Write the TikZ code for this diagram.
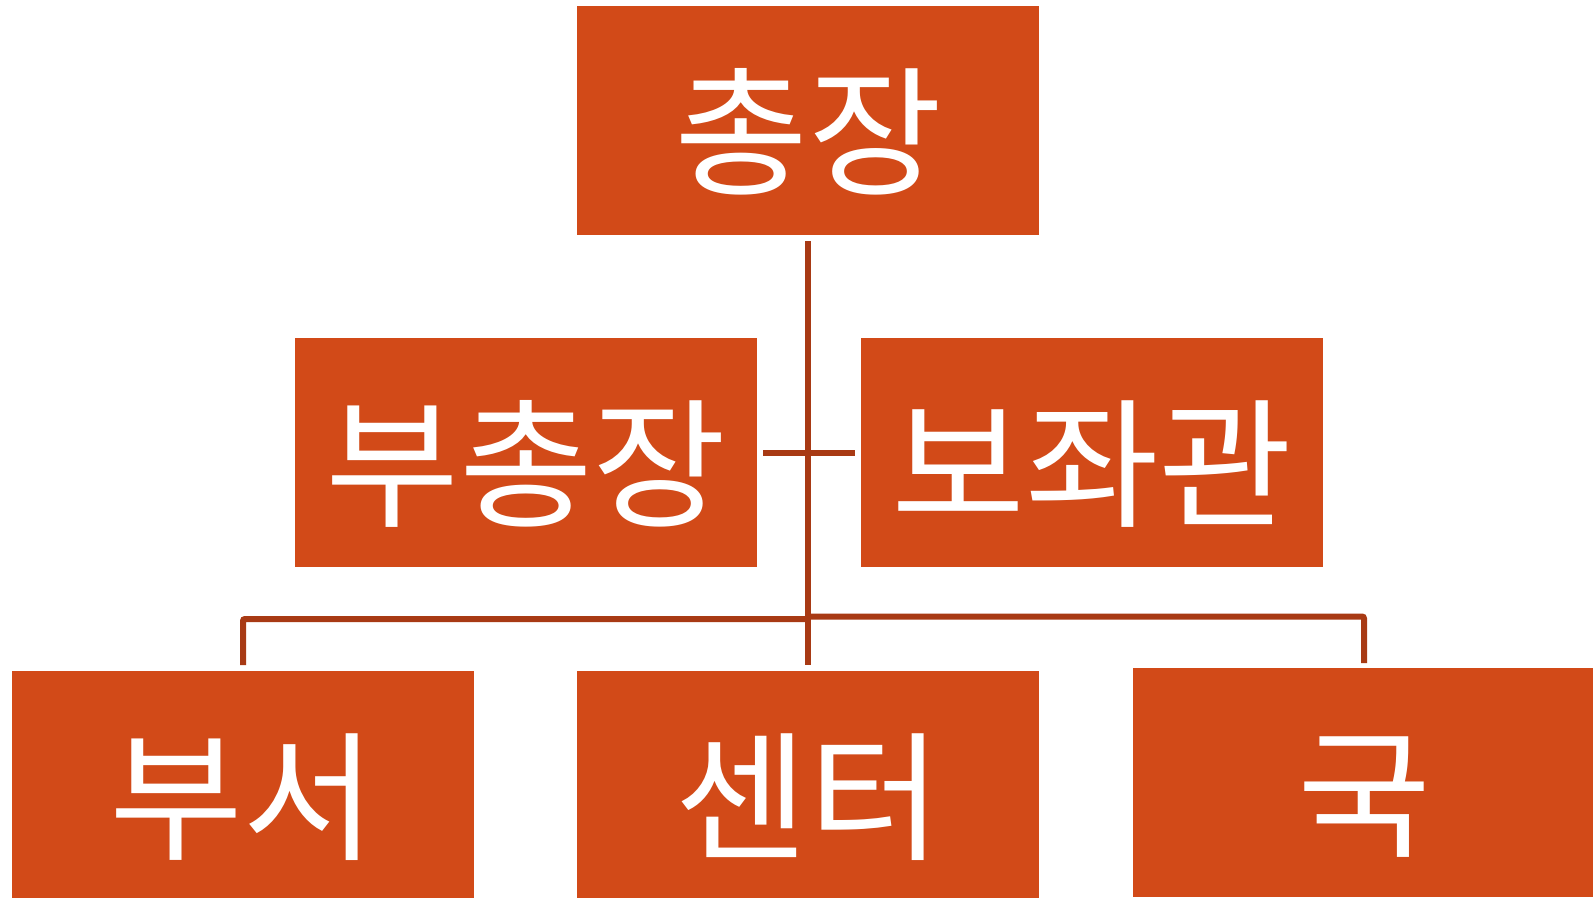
\documentclass[tikz,border=0pt]{standalone}
\usepackage{fontspec}
\newfontfamily\krfont[FakeStretch=1.04]{Noto Sans CJK KR}
\definecolor{boxfill}{HTML}{D24A18}
\definecolor{linkc}{HTML}{A83A14}
\begin{document}
\begin{tikzpicture}[x=1pt,y=-1pt]
\tikzset{
  unit/.style={fill=boxfill, draw=none, minimum width=462pt, minimum height=229pt,
    inner sep=0pt, outer sep=0pt, anchor=north west, text=white,
    font=\krfont\fontsize{140}{145}\selectfont, text height=128pt, text depth=0pt},
  link/.style={draw=linkc, line width=6pt}
}
\useasboundingbox (0,0) rectangle (1593,897);
\fill[white] (0,0) rectangle (1593,897);
\node[unit] (top)  at (577,6)    {총장};
\node[unit] (vp)   at (295,338)  {부총장};
\node[unit] (asst) at (861,338)  {보좌관};
\node[unit] (b1)   at (12,671)   {부서};
\node[unit] (b2)   at (577,671)  {센터};
\node[unit] (b3)   at (1133,668) {국};
\draw[link] ([yshift=-6pt]top.south) -- ([yshift=6pt]b2.north);
\draw[link] ([xshift=6pt]vp.east) -- ([xshift=-6pt]asst.west);
\coordinate (busL) at (809,619);
\coordinate (busR) at (809,616.5);
\draw[link, rounded corners=2pt] (busL) -| ([yshift=6pt]b1.north);
\draw[link, rounded corners=2pt] (busR) -| ([yshift=5pt]b3.north);
\end{tikzpicture}
\end{document}
